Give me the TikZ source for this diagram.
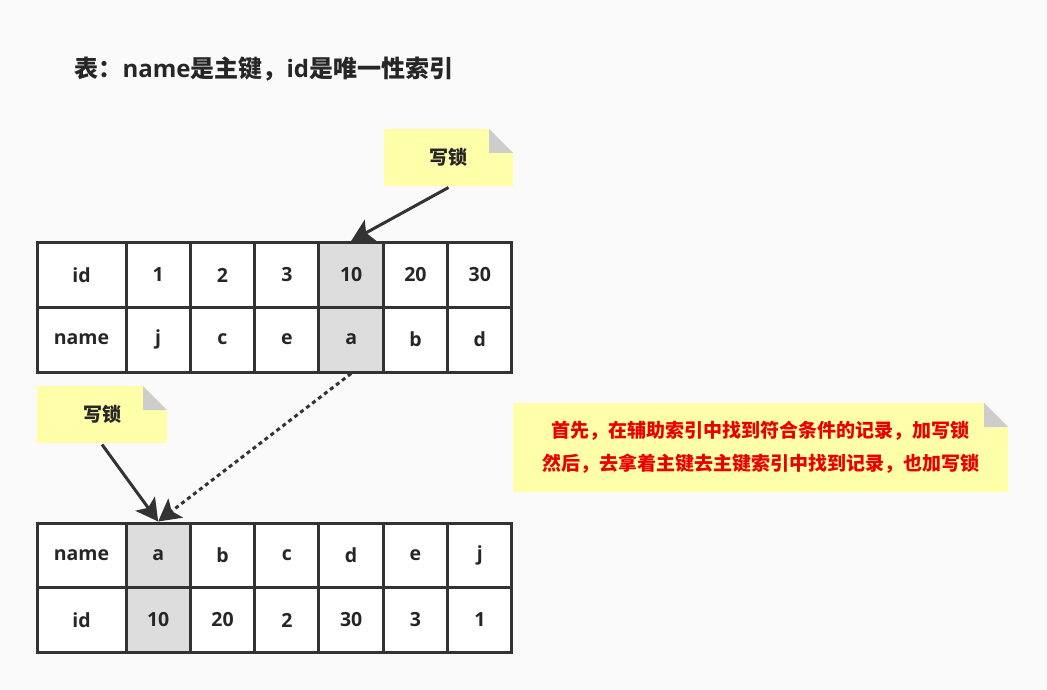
\documentclass[tikz,border=0pt]{standalone}
\usepackage{fontspec}
\setmainfont{Open Sans}
\newfontfamily\cjk{Noto Sans CJK SC}
\usetikzlibrary{arrows.meta}

\definecolor{bgc}{RGB}{250,250,250}
\definecolor{ink}{RGB}{51,51,51}
\definecolor{txt}{RGB}{38,38,38}
\definecolor{hitgray}{RGB}{221,221,221}
\definecolor{notefill}{RGB}{255,255,170}
\definecolor{foldgray}{RGB}{205,205,205}
\definecolor{warnred}{RGB}{235,0,0}

\begin{document}
\begin{tikzpicture}[x=1pt, y=-1pt, line width=3pt,
  cell/.style={draw=ink, line width=3pt, fill=white, inner sep=0pt,
    minimum height=65pt, minimum width=64.33pt, text=txt,
    font=\fontsize{19.5}{22}\selectfont\bfseries},
  headcell/.style={cell, minimum width=89pt},
  hit/.style={fill=hitgray},
  note/.style={fill=bgc, inner sep=0pt, text=txt,
    font=\cjk\fontsize{19}{33}\selectfont\bfseries,
    path picture={
      \fill[notefill] (path picture bounding box.south west)
        |- ([xshift=-24pt]path picture bounding box.north east)
        -- ([yshift=-24pt]path picture bounding box.north east)
        |- cycle;
      \fill[foldgray] ([xshift=-24pt]path picture bounding box.north east)
        -- ++(0pt,-24pt) -- ++(24pt,0pt) -- cycle;}},
  lockarrow/.style={draw=ink, -{Stealth[length=22pt, width=24pt, inset=5pt]}}]

\fill[bgc] (0,0) rectangle (1047,690);

% title
\node [anchor=west, inner sep=0pt, text=txt, font=\fontsize{24}{28}\selectfont\bfseries] (title) at (73,69)
  {{\cjk 表：}name{\cjk 是主键，}id{\cjk 是唯一性索引}};

% secondary index on id
\node [headcell] (tid0) at (81.5,275) {id};
\node [headcell] (tname0) at (81.5,339.5) {name};
\foreach \v/\s [count=\i] in {1/,2/,3/,10/hit,20/,30/}
  \node [cell,\s] (tid\i) at ({126+(\i-0.5)*64.33},275) {\v};
\foreach \v/\s [count=\i] in {j/,c/,e/,a/hit,b/,d/}
  \node [cell,\s] (tname\i) at ({126+(\i-0.5)*64.33},339.5) {\v};

% primary key index on name
\node [headcell] (bname0) at (81.5,555.5) {name};
\node [headcell] (bid0) at (81.5,620) {id};
\foreach \v/\s [count=\i] in {a/hit,b/,c/,d/,e/,j/}
  \node [cell,\s] (bname\i) at ({126+(\i-0.5)*64.33},555.5) {\v};
\foreach \v/\s [count=\i] in {10/hit,20/,2/,30/,3/,1/}
  \node [cell,\s] (bid\i) at ({126+(\i-0.5)*64.33},620) {\v};

% notes
\node [note, minimum width=129pt, minimum height=57pt] (lock1) at (448.5,157.5) {写锁};
\node [note, minimum width=130pt, minimum height=57pt] (lock2) at (102,414.5) {写锁};
\node [note, minimum width=495pt, minimum height=89pt, text=warnred, align=center] (steps) at (760.5,447.5)
  {首先，在辅助索引中找到符合条件的记录，加写锁\\然后，去拿着主键去主键索引中找到记录，也加写锁};

\draw[lockarrow] (lock1.south) -- (tid4.north);
\draw[lockarrow] (lock2.south) -- (bname1.north);
\draw[lockarrow, dash pattern=on 4pt off 3.5pt] (tname4.south) -- (bname1.north);

\end{tikzpicture}
\end{document}
